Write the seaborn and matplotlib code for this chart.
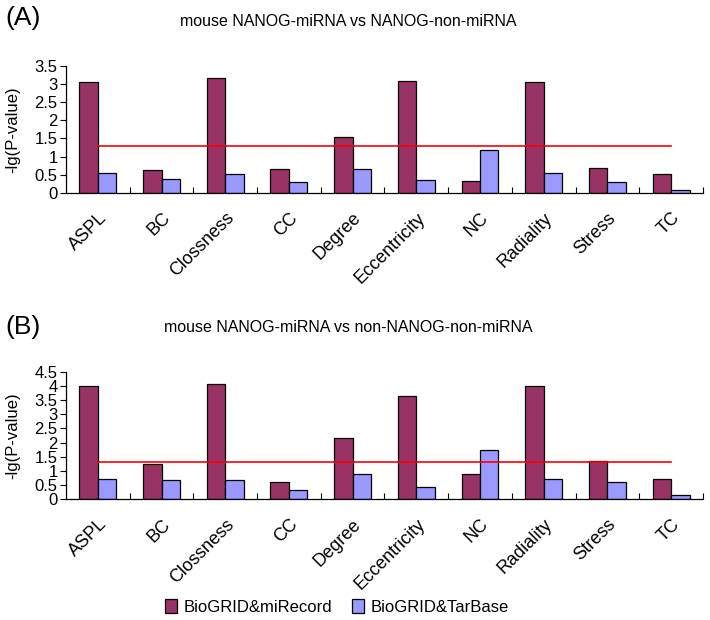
import numpy as np
import pandas as pd
import matplotlib
matplotlib.use('Agg')
import matplotlib.pyplot as plt
import seaborn as sns

# data
categories = ['ASPL', 'BC', 'Clossness', 'CC', 'Degree', 'Eccentricity',
              'NC', 'Radiality', 'Stress', 'TC']
series = ['BioGRID&miRecord', 'BioGRID&TarBase']

a_mirecord = [3.04, 0.63, 3.16, 0.66, 1.53, 3.07, 0.32, 3.04, 0.69, 0.51]
a_tarbase = [0.55, 0.37, 0.51, 0.29, 0.66, 0.35, 1.18, 0.55, 0.29, 0.07]
b_mirecord = [4.00, 1.23, 4.08, 0.62, 2.15, 3.64, 0.90, 4.00, 1.34, 0.71]
b_tarbase = [0.71, 0.66, 0.66, 0.32, 0.90, 0.42, 1.74, 0.71, 0.59, 0.13]
threshold = 1.3  # -lg(0.05)

titles = ['mouse NANOG-miRNA vs NANOG-non-miRNA',
          'mouse NANOG-miRNA vs non-NANOG-non-miRNA']
panel_tags = ['(A)', '(B)']
y_max = [3.5, 4.5]

colors = ['#993366', '#9999FF']

plt.rcParams['font.family'] = ['Liberation Sans', 'DejaVu Sans']

fig = plt.figure(figsize=(7.1, 6.2), dpi=100)
ax_a = fig.add_axes([0.093, 0.689, 0.897, 0.205])
ax_b = fig.add_axes([0.093, 0.195, 0.897, 0.205])


def long_form(v1, v2):
    return pd.DataFrame({
        'metric': categories * 2,
        'series': [series[0]] * len(categories) + [series[1]] * len(categories),
        'value': list(v1) + list(v2),
    })


panels = [(ax_a, a_mirecord, a_tarbase), (ax_b, b_mirecord, b_tarbase)]
for i, (ax, v1, v2) in enumerate(panels):
    df = long_form(v1, v2)
    sns.barplot(data=df, x='metric', y='value', hue='series', order=categories,
                hue_order=series, palette=colors, width=0.58, gap=0,
                edgecolor='black', linewidth=0.9, saturation=1, ax=ax)
    n = len(categories)
    ax.plot(np.arange(n), [threshold] * n, color='#FF0000', lw=1.2, zorder=5)

    ax.set_xlim(-0.5, n - 0.5)
    ax.set_ylim(0, y_max[i])
    ax.set_yticks(np.arange(0, y_max[i] + 0.01, 0.5))
    ax.set_yticklabels([f'{t:g}' for t in np.arange(0, y_max[i] + 0.01, 0.5)],
                       fontsize=12)
    ax.tick_params(axis='y', direction='out', length=4, width=0.8, pad=2)
    ax.set_xticks(np.arange(n))
    ax.set_xticklabels(categories, rotation=45, ha='right',
                       rotation_mode='anchor', fontsize=13)
    ax.tick_params(axis='x', which='major', length=0, pad=12)
    ax.set_xticks(np.arange(n) + 0.5, minor=True)
    ax.tick_params(axis='x', which='minor', direction='in', length=4, width=0.8)
    for s in ['top', 'right']:
        ax.spines[s].set_visible(False)
    for s in ['left', 'bottom']:
        ax.spines[s].set_linewidth(0.9)
    ax.set_xlabel('')
    ax.set_ylabel('-lg(P-value)', fontsize=12, labelpad=2)
    ax.yaxis.set_label_coords(-0.072, 0.5)
    handles, labels = ax.get_legend_handles_labels()
    ax.get_legend().remove()

fig.text(0.008, 1 - 18 / 620, panel_tags[0], fontsize=19, va='center')
fig.text(0.49, 1 - 21 / 620, titles[0], fontsize=11.5, va='center', ha='center')
fig.text(0.008, 1 - 327 / 620, panel_tags[1], fontsize=19, va='center')
fig.text(0.49, 1 - 327 / 620, titles[1], fontsize=11.5, va='center', ha='center')

fig.legend(handles, labels, loc='center', bbox_to_anchor=(0.475, 1 - 607 / 620),
           ncol=2, frameon=False, fontsize=12, handlelength=0.7,
           handleheight=0.9, handletextpad=0.4, columnspacing=1.2)

fig.savefig('out.png', dpi=100)
